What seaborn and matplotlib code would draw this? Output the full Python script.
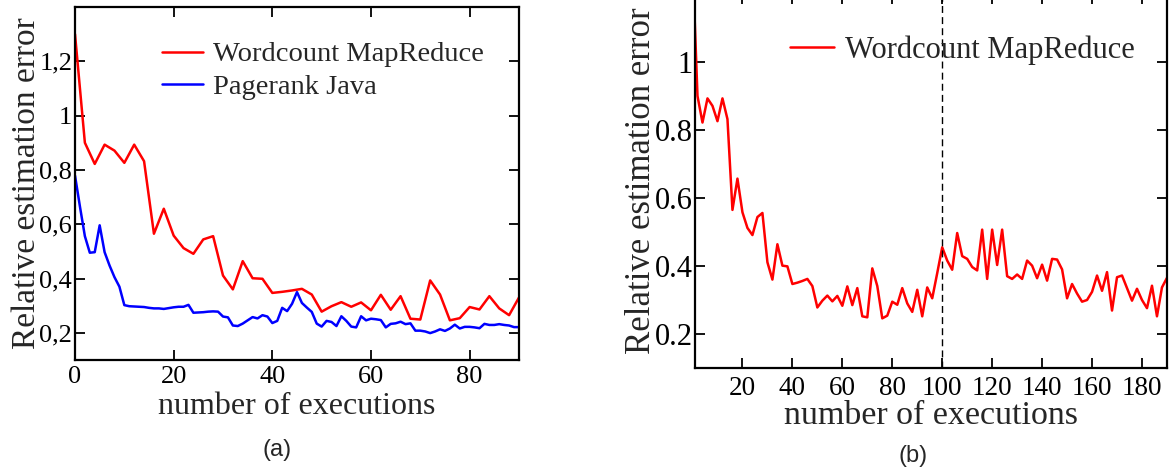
import numpy as np
import pandas as pd
import matplotlib
matplotlib.use("Agg")
import matplotlib.pyplot as plt
import seaborn as sns

# ---------------- data ----------------
# Wordcount MapReduce: relative estimation error, every 2 executions (0..190)
wordcount_x = list(range(0, 192, 2))
wordcount_err = [
    1.30, 0.90, 0.822, 0.893, 0.871, 0.826, 0.893, 0.832, 0.565, 0.657,
    0.558, 0.512, 0.491, 0.544, 0.556, 0.411, 0.360, 0.464, 0.401, 0.399,
    0.347, 0.351, 0.356, 0.362, 0.341, 0.278, 0.298, 0.313, 0.296, 0.312,
    0.283, 0.340, 0.285, 0.335, 0.252, 0.249, 0.393, 0.341, 0.246, 0.254,
    0.295, 0.286, 0.335, 0.290, 0.265, 0.330, 0.252, 0.337, 0.305, 0.379,
    0.455, 0.416, 0.389, 0.497, 0.429, 0.421, 0.397, 0.387, 0.507, 0.362,
    0.507, 0.403, 0.507, 0.370, 0.362, 0.375, 0.362, 0.416, 0.401, 0.364,
    0.404, 0.357, 0.421, 0.419, 0.390, 0.305, 0.347, 0.319, 0.295, 0.300,
    0.324, 0.372, 0.327, 0.382, 0.269, 0.367, 0.372, 0.335, 0.298, 0.333,
    0.300, 0.276, 0.342, 0.252, 0.337, 0.365,
]

# Pagerank Java: every execution (0..90)
pagerank_x = list(range(0, 91))
pagerank_err = [
    0.779, 0.665, 0.556, 0.495, 0.497, 0.596, 0.497, 0.448, 0.405, 0.370,
    0.302, 0.298, 0.297, 0.296, 0.295, 0.292, 0.290, 0.290, 0.288, 0.291,
    0.294, 0.296, 0.296, 0.303, 0.274, 0.275, 0.276, 0.278, 0.279, 0.278,
    0.260, 0.257, 0.227, 0.225, 0.234, 0.246, 0.258, 0.253, 0.265, 0.260,
    0.236, 0.244, 0.292, 0.280, 0.307, 0.350, 0.310, 0.293, 0.277, 0.234,
    0.223, 0.244, 0.240, 0.225, 0.261, 0.244, 0.223, 0.220, 0.261, 0.246,
    0.252, 0.250, 0.247, 0.220, 0.233, 0.235, 0.241, 0.232, 0.235, 0.208,
    0.208, 0.205, 0.199, 0.205, 0.213, 0.207, 0.216, 0.230, 0.216, 0.222,
    0.222, 0.220, 0.217, 0.233, 0.229, 0.229, 0.232, 0.229, 0.227, 0.221,
    0.221,
]

left_xticks = [0, 20, 40, 60, 80]
left_yticks = [0.2, 0.4, 0.6, 0.8, 1.0, 1.2]
left_yticklabels = ["0,2", "0,4", "0,6", "0,8", "1", "1,2"]
right_xticks = [20, 40, 60, 80, 100, 120, 140, 160, 180]
right_yticks = [0.2, 0.4, 0.6, 0.8, 1.0]
right_yticklabels = ["0.2", "0.4", "0.6", "0.8", "1"]
split_at = 100

series_a = "Wordcount MapReduce"
series_b = "Pagerank Java"
xlabel = "number of executions"
ylabel = "Relative estimation error"

# ---------------- style ----------------
sns.set_theme(style="ticks")
plt.rcParams["font.family"] = ["Liberation Serif", "DejaVu Serif"]
plt.rcParams["axes.linewidth"] = 1.6

fig = plt.figure(figsize=(11.72, 4.71), dpi=100)
ax1 = fig.add_axes([0.064, 0.2357, 0.3788, 0.7495])
ax2 = fig.add_axes([0.593, 0.2187, 0.4027, 0.794])

df_wc = pd.DataFrame({"x": wordcount_x, "err": wordcount_err})
df_pr = pd.DataFrame({"x": pagerank_x, "err": pagerank_err})
df_wc_left = df_wc[df_wc["x"] <= 90]

lw = 1.8
# ---- (a) ----
sns.lineplot(data=df_wc_left, x="x", y="err", color="#ff0000", lw=lw,
             label=series_a, ax=ax1, sort=False)
sns.lineplot(data=df_pr, x="x", y="err", color="#0000ff", lw=lw,
             label=series_b, ax=ax1, sort=False)
ax1.set_xlim(0, 90)
ax1.set_ylim(0.1, 1.4)
ax1.set_xticks(left_xticks)
ax1.set_yticks(left_yticks)
ax1.set_yticklabels(left_yticklabels)
ax1.tick_params(direction="in", length=7, width=1.3, top=True, right=True,
                labelsize=19, colors="black")
ax1.tick_params(axis="x", pad=4.5)
ax1.tick_params(axis="y", pad=2)
ax1.set_xlabel(xlabel, fontsize=23)
ax1.set_ylabel(ylabel, fontsize=24, labelpad=-2)
ax1.xaxis.set_label_coords(0.5, -0.09)
ax1.legend(loc="upper left", bbox_to_anchor=(0.195, 0.902), frameon=False,
           fontsize=20.5, handlelength=1.45, handletextpad=0.35,
           labelspacing=0.22, borderpad=0, borderaxespad=0)

# ---- (b) ----
sns.lineplot(data=df_wc, x="x", y="err", color="#ff0000", lw=lw,
             label=series_a, ax=ax2, sort=False)
ax2.axvline(split_at, color="black", lw=1.0, ls=(0, (5, 3)))
ax2.set_xlim(1, 190)
ax2.set_ylim(0.1, 1.2)
ax2.set_xticks(right_xticks)
ax2.set_yticks(right_yticks)
ax2.set_yticklabels(right_yticklabels)
ax2.tick_params(direction="in", length=7, width=1.3, top=True, right=True,
                colors="black")
ax2.tick_params(axis="x", pad=6, labelsize=19.5)
ax2.tick_params(axis="y", pad=1.5, labelsize=22)
ax2.set_xlabel(xlabel, fontsize=24.5)
ax2.set_ylabel(ylabel, fontsize=25, labelpad=-2)
ax2.xaxis.set_label_coords(0.5, -0.086)
ax2.legend(loc="upper left", bbox_to_anchor=(0.201, 0.889), frameon=False,
           fontsize=22, handlelength=1.45, handletextpad=0.35,
           borderpad=0, borderaxespad=0)

for ax in (ax1, ax2):
    for s in ax.spines.values():
        s.set_color("black")
        s.set_linewidth(1.6)

fig.text(277 / 1172, 1 - 450 / 471, "(a)", ha="center", va="center",
         fontsize=17, family=["Liberation Sans", "DejaVu Sans"])
fig.text(913 / 1172, 1 - 456 / 471, "(b)", ha="center", va="center",
         fontsize=17, family=["Liberation Sans", "DejaVu Sans"])

fig.savefig("out.png", dpi=100)
